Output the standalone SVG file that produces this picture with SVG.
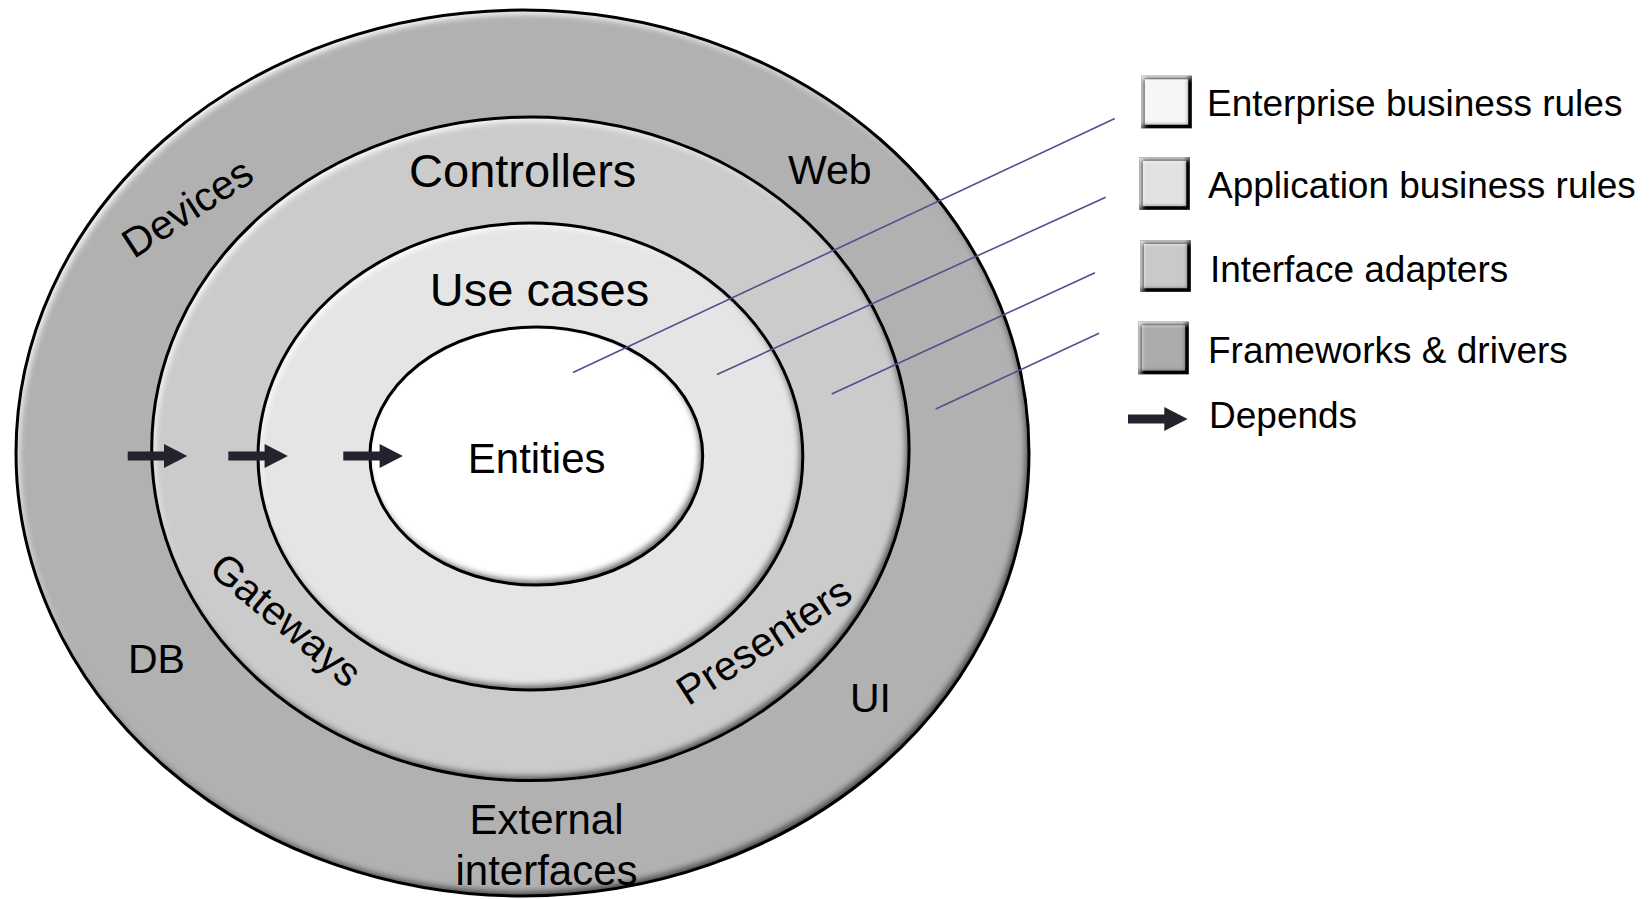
<svg xmlns="http://www.w3.org/2000/svg" width="1649" height="899" viewBox="0 0 1649 899">
  <style>
    text { font-family: "Liberation Sans", Arial, sans-serif; fill: #000; }
    .ring { stroke: none; filter: url(#bevel); }
    .edge { fill: none; stroke: #000; stroke-width: 3; }
    .lbl47 { font-size: 47px; text-anchor: middle; }
    .lbl42 { font-size: 42px; text-anchor: middle; }
    .lbl41 { font-size: 41px; }
    .legtext { font-size: 37px; }
    .leader { stroke: #50508c; stroke-width: 1.6; fill: none; }
    .dep { fill: #23232e; }
    .lbox { stroke: #000; stroke-width: 3.5; filter: url(#bevelS); }
  </style>
  <defs>
    <filter id="bevel" x="-5%" y="-5%" width="110%" height="110%" color-interpolation-filters="sRGB">
      <feComponentTransfer in="SourceAlpha" result="inv"><feFuncA type="table" tableValues="1 0"/></feComponentTransfer>
      <feGaussianBlur in="inv" stdDeviation="3" result="ib"/>
      <feOffset in="ib" dx="3" dy="4" result="ibL"/>
      <feFlood flood-color="#ffffff" flood-opacity="0.95"/>
      <feComposite in2="ibL" operator="in"/>
      <feComposite in2="SourceAlpha" operator="in" result="light"/>
      <feOffset in="ib" dx="-3" dy="-4" result="ibD"/>
      <feFlood flood-color="#000000" flood-opacity="0.6"/>
      <feComposite in2="ibD" operator="in"/>
      <feComposite in2="SourceAlpha" operator="in" result="dark"/>
      <feMerge><feMergeNode in="SourceGraphic"/><feMergeNode in="light"/><feMergeNode in="dark"/></feMerge>
    </filter>
    <filter id="bevelS" x="-20%" y="-20%" width="140%" height="140%" color-interpolation-filters="sRGB">
      <feComponentTransfer in="SourceAlpha" result="inv"><feFuncA type="table" tableValues="1 0"/></feComponentTransfer>
      <feGaussianBlur in="inv" stdDeviation="2" result="ib"/>
      <feOffset in="ib" dx="3" dy="3" result="ibL"/>
      <feFlood flood-color="#ffffff" flood-opacity="0.95"/>
      <feComposite in2="ibL" operator="in"/>
      <feComposite in2="SourceAlpha" operator="in" result="light"/>
      <feOffset in="ib" dx="-3" dy="-3" result="ibD"/>
      <feFlood flood-color="#000000" flood-opacity="0.55"/>
      <feComposite in2="ibD" operator="in"/>
      <feComposite in2="SourceAlpha" operator="in" result="dark"/>
      <feMerge><feMergeNode in="SourceGraphic"/><feMergeNode in="light"/><feMergeNode in="dark"/></feMerge>
    </filter>
    <path id="deparrow" d="M0,-4.5 H36.3 V-12 L59.6,0 L36.3,12 V4.5 H0 Z"/>
  </defs>

  <g id="frameworks-drivers">
    <ellipse class="ring" cx="522.5" cy="453" rx="506.5" ry="443" fill="#b1b1b1"/>
    <ellipse class="edge" cx="522.5" cy="453" rx="506.5" ry="443"/>
    <text class="lbl41" text-anchor="middle" transform="translate(195,219.5) rotate(-33)">Devices</text>
    <text class="lbl41" x="788" y="184">Web</text>
    <text class="lbl41" x="128" y="673">DB</text>
    <text class="lbl41" x="850" y="712">UI</text>
    <text class="lbl42" x="546.5" y="833.5">External</text>
    <text class="lbl42" x="546.5" y="885">interfaces</text>
  </g>

  <g id="interface-adapters">
    <ellipse class="ring" cx="530.4" cy="448.8" rx="378.7" ry="331.8" fill="#cbcbcb"/>
    <ellipse class="edge" cx="530.4" cy="448.8" rx="378.7" ry="331.8"/>
    <text class="lbl47" x="522.7" y="187">Controllers</text>
    <text class="lbl41" text-anchor="middle" transform="translate(277,630.5) rotate(40)">Gateways</text>
    <text class="lbl41" text-anchor="middle" transform="translate(771.5,652.5) rotate(-33)">Presenters</text>
  </g>

  <g id="use-cases">
    <ellipse class="ring" cx="530.4" cy="456.5" rx="272.4" ry="233.5" fill="#e5e5e5"/>
    <ellipse class="edge" cx="530.4" cy="456.5" rx="272.4" ry="233.5"/>
    <text class="lbl47" x="539.5" y="306">Use cases</text>
  </g>

  <g id="entities">
    <ellipse class="ring" cx="536.3" cy="456" rx="166.4" ry="129" fill="#ffffff"/>
    <ellipse class="edge" cx="536.3" cy="456" rx="166.4" ry="129"/>
    <text class="lbl42" x="536.7" y="472.5">Entities</text>
  </g>

  <g id="connectors">
    <use href="#deparrow" class="dep" x="127.7" y="456"/>
    <use href="#deparrow" class="dep" x="228.3" y="456"/>
    <use href="#deparrow" class="dep" x="343.3" y="456"/>
    <line class="leader" x1="1114.8" y1="118.5" x2="573" y2="372.5"/>
    <line class="leader" x1="1105.7" y1="197.3" x2="717" y2="374.5"/>
    <line class="leader" x1="1095" y1="272.7" x2="831.7" y2="394"/>
    <line class="leader" x1="1099" y1="333.3" x2="935.7" y2="409"/>
  </g>

  <g id="legend">
    <g id="legend-enterprise">
      <rect class="lbox" x="1143" y="77.5" width="47" height="49" fill="#f6f6f6"/>
      <text class="legtext" x="1207" y="115.5">Enterprise business rules</text>
    </g>
    <g id="legend-application">
      <rect class="lbox" x="1141" y="159" width="47" height="49" fill="#e2e2e2"/>
      <text class="legtext" x="1208" y="198">Application business rules</text>
    </g>
    <g id="legend-interface">
      <rect class="lbox" x="1142" y="242" width="47" height="48" fill="#c9c9c9"/>
      <text class="legtext" x="1210" y="282">Interface adapters</text>
    </g>
    <g id="legend-frameworks">
      <rect class="lbox" x="1140" y="323.5" width="47" height="49" fill="#ababab"/>
      <text class="legtext" x="1208" y="362.5">Frameworks &amp; drivers</text>
    </g>
    <g id="legend-depends">
      <use href="#deparrow" class="dep" x="1128" y="419"/>
      <text class="legtext" x="1209" y="428">Depends</text>
    </g>
  </g>
</svg>
